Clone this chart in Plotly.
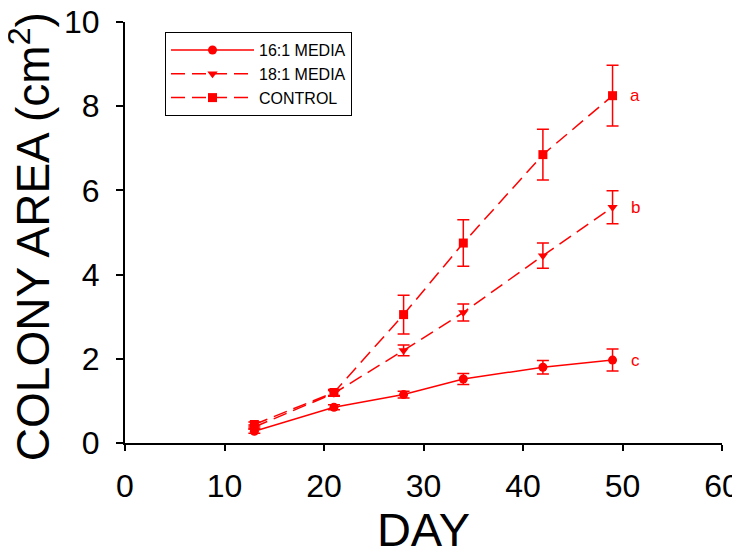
import plotly.graph_objects as go

days = [13, 21, 28, 34, 42, 49]
media16 = [0.28, 0.85, 1.15, 1.52, 1.80, 1.97]
media16_err = [0.05, 0.06, 0.08, 0.13, 0.16, 0.26]
media18 = [0.38, 1.18, 2.20, 3.10, 4.45, 5.60]
media18_err = [0.05, 0.07, 0.13, 0.20, 0.30, 0.39]
control = [0.44, 1.20, 3.05, 4.75, 6.85, 8.25]
control_err = [0.06, 0.07, 0.46, 0.55, 0.60, 0.72]
letters = ["a", "b", "c"]
letter_y = [8.25, 5.60, 1.97]

RED = "#ff0000"
FONT = "Liberation Sans, Arial, sans-serif"

fig = go.Figure()
series = [
    ("16:1 MEDIA", media16, media16_err, "circle", "solid"),
    ("18:1 MEDIA", media18, media18_err, "triangle-down", "14px,7px"),
    ("CONTROL", control, control_err, "square", "14px,7px"),
]
for name, ys, errs, sym, dash in series:
    fig.add_trace(go.Scatter(
        x=days, y=ys, name=name, mode="lines+markers",
        line=dict(color=RED, width=1.5, dash=dash),
        marker=dict(symbol=sym, size=9, color=RED),
        error_y=dict(type="data", array=errs, visible=True, color=RED, thickness=1.5, width=6),
    ))

for t, yv in zip(letters, letter_y):
    fig.add_annotation(x=51.3, y=yv, text=t, showarrow=False,
                       font=dict(family=FONT, size=17, color=RED), xanchor="center")

# y-axis title as rotated annotation (positioned like the reference)
fig.add_annotation(xref="paper", yref="paper", x=-0.16, y=0.49,
                   text="COLONY AREA (cm<sup>2</sup>)", textangle=-90, showarrow=False,
                   xanchor="center", yanchor="middle",
                   font=dict(family=FONT, size=46, color="black"))

fig.update_layout(
    width=732, height=548,
    margin=dict(l=117, r=18, t=14, b=113),
    paper_bgcolor="white", plot_bgcolor="white",
    font=dict(family=FONT, color="black"),
    showlegend=True,
    legend=dict(x=0.067, y=0.976, xanchor="left", yanchor="top",
                bordercolor="black", borderwidth=1, bgcolor="white",
                itemwidth=83,
                font=dict(size=16, family=FONT), tracegroupgap=0),
    xaxis=dict(range=[0, 60], tickvals=[0, 10, 20, 30, 40, 50, 60],
               automargin=False, ticklabeloverflow="allow",
               showline=True, linecolor="black", linewidth=2,
               ticks="outside", ticklen=6, tickwidth=2, tickcolor="black",
               showgrid=False, zeroline=False,
               ticklabelstandoff=8,
               tickfont=dict(size=32, family=FONT),
               title=dict(text="DAY", font=dict(size=47, family=FONT), standoff=30)),
    yaxis=dict(range=[0, 10], tickvals=[0, 2, 4, 6, 8, 10],
               automargin=False, ticklabeloverflow="allow",
               showline=True, linecolor="black", linewidth=2,
               ticks="outside", ticklen=7, tickwidth=2, tickcolor="black",
               showgrid=False, zeroline=False,
               ticklabelstandoff=10,
               tickfont=dict(size=32, family=FONT)),
)

fig.write_html("out.html")
